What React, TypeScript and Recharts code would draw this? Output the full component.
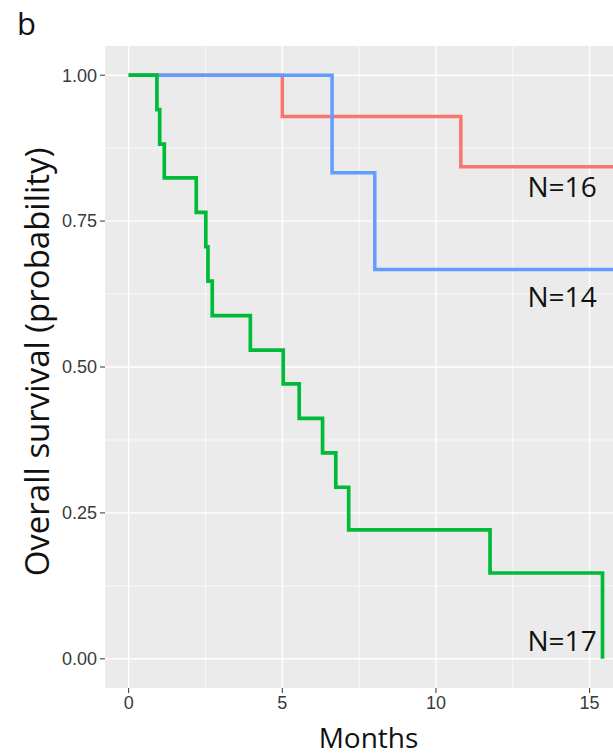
import React from 'react';
import { LineChart, Line, XAxis, YAxis, CartesianGrid, ReferenceDot } from 'recharts';

// Kaplan-Meier step data (months, survival probability)
const redTimes = [0, 5.0, 10.81, 15.8];
const redSurv = [1, 0.929, 0.843, 0.843];

const blueTimes = [0, 6.62, 8.01, 15.8];
const blueSurv = [1, 0.833, 0.667, 0.667];

const greenTimes = [0, 0.92, 1.01, 1.16, 2.2, 2.51, 2.58, 2.72, 3.96, 5.03, 5.55, 6.31, 6.74, 7.16, 11.76, 15.42];
const greenSurv = [1, 0.941, 0.882, 0.824, 0.765, 0.706, 0.647, 0.588, 0.529, 0.471, 0.412, 0.353, 0.294, 0.221, 0.147, 0];

const xTicks = [0, 5, 10, 15];
const xMinor = [2.5, 7.5, 12.5];
const yTicks = [0, 0.25, 0.5, 0.75, 1];
const yMinor = [0.125, 0.375, 0.625, 0.875];

const nLabels = ['N=16', 'N=14', 'N=17'];
const nLabelX = [15.23, 15.23, 15.23];
const nLabelY = [0.791, 0.602, 0.014];

const toPoints = (ts: number[], ss: number[]) => ts.map((t, i) => ({ t, s: ss[i] }));

const redData = toPoints(redTimes, redSurv);
const blueData = toPoints(blueTimes, blueSurv);
const greenData = toPoints(greenTimes, greenSurv);

const SANS = '"Open Sans", "Noto Sans", sans-serif';
const TICKFONT = '"Liberation Sans", Arial, sans-serif';

const NLabel = (props: any) => {
  const { viewBox, text } = props;
  const x = viewBox.x + (viewBox.width || 0) / 2;
  const y = viewBox.y + (viewBox.height || 0) / 2;
  return (
    <text x={x} y={y} textAnchor="end" fontFamily={SANS} fontSize={28} fill="#111">
      {text}
    </text>
  );
};

const YTitle = (props: any) => {
  const { viewBox } = props;
  const cx = 49;
  const cy = viewBox.y + viewBox.height / 2 - 5;
  return (
    <text
      x={cx}
      y={cy}
      textAnchor="middle"
      transform={`rotate(-90, ${cx}, ${cy})`}
      fontFamily={SANS}
      fontSize={33}
      fill="#111"
    >
      Overall survival (probability)
    </text>
  );
};

const XTitle = (props: any) => {
  const { viewBox } = props;
  const cx = viewBox.x + viewBox.width / 2;
  const cy = viewBox.y + 60;
  return (
    <text x={cx} y={cy} textAnchor="middle" fontFamily={SANS} fontSize={28} fill="#111">
      Months
    </text>
  );
};

export default function App() {
  return (
    <div
      style={{
        position: 'absolute',
        left: 0,
        top: 0,
        width: 613,
        height: 756,
        overflow: 'hidden',
        background: '#fff',
      }}
    >
      <div style={{ position: 'absolute', left: 0, top: 0 }}>
        <LineChart width={632} height={756} margin={{ top: 46, right: 0, bottom: 0, left: 0 }}>
          <CartesianGrid
            fill="#EBEBEB"
            stroke="#ffffff"
            strokeWidth={0.7}
            horizontalValues={yMinor}
            verticalValues={xMinor}
          />
          <CartesianGrid
            fill="none"
            stroke="#ffffff"
            strokeWidth={1.4}
            horizontalValues={yTicks}
            verticalValues={xTicks}
          />
          <XAxis
            type="number"
            dataKey="t"
            domain={[-0.77, 16.38]}
            ticks={xTicks}
            allowDataOverflow
            height={68}
            axisLine={false}
            tickSize={5}
            tickMargin={3}
            tickLine={{ stroke: '#333' }}
            tick={{ fontSize: 18, fill: '#3a3a3a', fontFamily: TICKFONT }}
            label={<XTitle />}
          />
          <YAxis
            type="number"
            dataKey="s"
            domain={[-0.05, 1.05]}
            ticks={yTicks}
            allowDataOverflow
            width={105}
            axisLine={false}
            tickSize={5}
            tickMargin={3}
            tickLine={{ stroke: '#333' }}
            tick={{ fontSize: 18, fill: '#3a3a3a', fontFamily: TICKFONT }}
            tickFormatter={(v: number) => v.toFixed(2)}
            label={<YTitle />}
          />
          <Line
            data={redData}
            dataKey="s"
            type="stepAfter"
            stroke="#F8766D"
            strokeWidth={3.5}
            dot={false}
            activeDot={false}
            isAnimationActive={false}
          />
          <Line
            data={blueData}
            dataKey="s"
            type="stepAfter"
            stroke="#619CFF"
            strokeWidth={3.5}
            dot={false}
            activeDot={false}
            isAnimationActive={false}
          />
          <Line
            data={greenData}
            dataKey="s"
            type="stepAfter"
            stroke="#00BA38"
            strokeWidth={3.7}
            dot={false}
            activeDot={false}
            isAnimationActive={false}
          />
          {nLabels.map((txt, i) => (
            <ReferenceDot
              key={txt}
              x={nLabelX[i]}
              y={nLabelY[i]}
              r={1}
              fill="none"
              stroke="none"
              label={<NLabel text={txt} />}
            />
          ))}
        </LineChart>
      </div>
      <svg width={120} height={80} style={{ position: 'absolute', left: 0, top: 0, overflow: 'visible' }}>
        <text x={17} y={35} fontFamily={SANS} fontSize={31} fill="#111">
          b
        </text>
      </svg>
    </div>
  );
}
